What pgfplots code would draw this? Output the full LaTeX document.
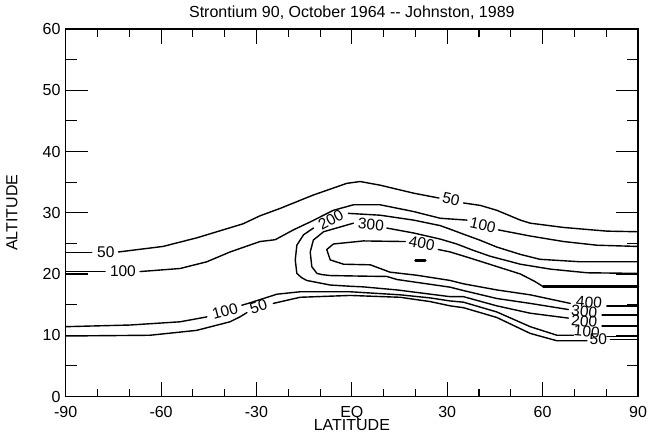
\documentclass[border=0pt]{standalone}
\usepackage{pgfplots}
\pgfplotsset{compat=1.18}
\usepackage{fontspec}
\setmainfont{Liberation Sans}
\newcommand{\lf}{\fontsize{16}{19}\selectfont}
\newcommand{\cf}{\fontsize{15.5}{18}\selectfont}
\tikzset{lb/.style={font=\cf, inner sep=0pt}}
\begin{document}
\begin{tikzpicture}
\pgfplotsset{
  common/.style={at={(0,0)}, anchor=south west, scale only axis,
    width=572.3pt, height=367.5pt,
    xmin=-90, xmax=90, ymin=0, ymax=60,
    tick align=inside, tick pos=both,
    xticklabel pos=lower, yticklabel pos=left,
    axis line style={line width=1.1pt},
    tick style={black, line width=1.1pt},
    every tick label/.append style={font=\lf}},
  cl/.style={black, line width=1.4pt, line join=round, line cap=round, no marks},
}
\begin{axis}[common, name=main, clip=false,
    ytick=\empty,
    xtick={-90,-60,-30,0,30,60,90},
    xticklabels={-90,-60,-30,EQ,30,60,90},
    minor xtick={-80,-70,-50,-40,-20,-10,10,20,40,50,70,80},
    major tick length=15pt, minor tick length=7.7pt,
    xticklabel style={anchor=base, yshift=-21pt, inner sep=0pt}]
% upper 50
\addplot[cl] coordinates {(-90,23.54) (-81.8,23.54)};
\addplot[cl] coordinates {(-73.4,23.6) (-59.4,24.5) (-48.8,25.9) (-34.2,28.2) (-28.9,29.5) (-22.6,30.7) (-12.1,32.9) (-1.6,34.8) (2.6,35.1) (8.9,34.5) (19.4,33.2) (27.4,32.4)};
\addplot[cl] coordinates {(35.1,31.6) (40.4,31.2) (45.6,30.4) (53.0,28.8) (56.1,28.3) (66.6,27.6) (80.2,27.0) (90,26.9)};
\node[lb] at (axis cs:-77.4,23.55) {50};
\node[lb, rotate=-12] at (axis cs:31.2,32.2) {50};
% upper 100
\addplot[cl] coordinates {(-90,20.38) (-77.6,20.38)};
\addplot[cl] coordinates {(-66.6,20.4) (-54.0,20.9) (-45.6,22.0) (-38.3,23.6) (-28.9,25.3) (-24.1,25.6) (-18.4,27.2) (-13.1,28.5) (-5.8,30.4) (0.5,31.3) (8.9,31.3) (19.4,30.2) (27.8,29.1) (36.2,28.8)};
\addplot[cl] coordinates {(46.1,27.2) (56.1,26.2) (66.6,25.3) (77.1,24.7) (90,24.5)};
\node[lb] at (axis cs:-72.0,20.4) {100};
\node[lb, rotate=-12] at (axis cs:41.2,28.0) {100};
% 200
\addplot[cl] coordinates {(90,22.0) (71.8,22.0) (59.2,22.4) (53.0,23.2) (45.6,24.4) (40.4,25.5) (35.1,26.5) (31.0,27.3) (27.8,27.9) (19.4,28.8) (8.9,29.6) (-1.1,29.9)};
\addplot[cl] coordinates {(-12.1,27.5) (-15.2,26.4) (-17.3,24.7) (-17.8,22.3) (-17.3,20.1) (-15.8,19.4) (-14.2,18.95) (-6.8,18.2) (-0.5,18.0) (3.6,17.9) (14.2,17.4) (30.9,16.3) (35.1,16.3) (45.6,14.8) (56.1,13.6) (68.1,12.8)};
\addplot[cl] coordinates {(78.7,11.5) (90,11.5)};
\node[lb, rotate=28] at (axis cs:-6.6,28.9) {200};
\node[lb, rotate=-5] at (axis cs:73.1,12.3) {200};
% 300
\addplot[cl] coordinates {(90,20.1) (74,20.2) (62.4,20.8) (53.0,21.6) (43.5,22.9) (38.0,23.9) (33.0,24.9) (27.8,25.7) (19.4,26.7) (11.0,27.5)};
\addplot[cl] coordinates {(0.5,28.3) (-8.9,26.9) (-12.1,25.55) (-13.1,23.6) (-12.6,21.2) (-11.0,20.1) (-9.4,19.9) (-6.8,19.75) (3.6,19.65) (11.0,19.6) (14.2,19.1) (30.9,17.85) (35.1,17.3) (45.6,16.0) (56.1,15.2) (68.1,14.2)};
\addplot[cl] coordinates {(78.7,13.3) (90,13.3)};
\node[lb, rotate=-5] at (axis cs:6.0,28.1) {300};
\node[lb, rotate=-5] at (axis cs:73.1,13.9) {300};
% 400
\addplot[cl, line width=2.4pt] coordinates {(60.2,17.93) (90,17.93)};
\addplot[cl] coordinates {(60.2,17.93) (57.5,18.8) (53.0,20.0) (45.1,21.3) (37.2,22.6) (30.9,23.6) (27.2,24.0)};
\addplot[cl] coordinates {(16.8,25.3) (3.6,25.4) (-5.8,24.9) (-7.9,24.0) (-6.8,22.3) (-2.6,21.6) (5.8,21.5) (8.9,20.9) (12.0,20.3) (20.4,19.8) (30.9,18.95) (35.1,18.4) (45.6,17.4) (56.1,16.6) (68.7,15.2)};
\addplot[cl] coordinates {(80.2,14.8) (90,14.8)};
\node[lb, rotate=-10] at (axis cs:22.0,25.0) {400};
\node[lb, rotate=-5] at (axis cs:74.6,15.4) {400};
% small maximum
\addplot[cl, line width=2.4pt] coordinates {(20.0,22.2) (23.1,22.2)};
% lower 100
\addplot[cl] coordinates {(-90,11.4) (-69.8,11.67) (-54.0,12.2) (-45.6,13.0)};
\addplot[cl] coordinates {(-34.6,14.9) (-32.0,15.3) (-23.6,16.7) (-16.3,17.1) (-0.5,17.1) (15.2,16.6) (24.6,16.1) (30.9,15.6) (35.1,15.4) (45.6,13.8) (56.1,11.4) (64.5,10.0) (69.7,10.0)};
\addplot[cl] coordinates {(80.2,9.8) (90,9.8)};
\node[lb, rotate=15] at (axis cs:-39.9,13.9) {100};
\node[lb, rotate=-5] at (axis cs:73.9,10.6) {100};
% lower 50
\addplot[cl] coordinates {(-90,9.88) (-63.5,10.0) (-48.8,10.8) (-38.3,12.2) (-35.2,13.0) (-33.0,13.7)};
\addplot[cl] coordinates {(-24.7,15.2) (-16.3,16.2) (-0.5,16.5) (15.2,16.2) (24.6,15.5) (30.9,14.8) (35.1,14.5) (45.6,12.9) (56.1,10.3) (64.5,9.1) (73.9,9.1)};
\addplot[cl] coordinates {(81.3,9.3) (90,9.3)};
\node[lb, rotate=18] at (axis cs:-29.4,14.7) {50};
\node[lb] at (axis cs:77.5,9.3) {50};
\end{axis}
\begin{axis}[common,
    xtick=\empty,
    ytick={0,10,20,30,40,50,60},
    yticklabels={0,10,20,30,40,50,60},
    minor ytick={5,15,25,35,45,55},
    major tick length=22pt, minor tick length=11.5pt,
    yticklabel style={anchor=east, inner sep=0pt, xshift=-5pt}]
\end{axis}
\node[anchor=base, font=\fontsize{16}{19}\selectfont] at ([yshift=12pt]main.north) {Strontium 90, October 1964 -{}- Johnston, 1989};
\node[anchor=base, font=\lf] at ([yshift=-34pt]main.south) {LATITUDE};
\node[rotate=90, font=\lf] at ([xshift=-53.7pt]main.west) {ALTITUDE};
\pgfresetboundingbox
\path (-65.7pt,-35.5pt) rectangle (589.3pt,396.5pt);
\end{tikzpicture}
\end{document}
